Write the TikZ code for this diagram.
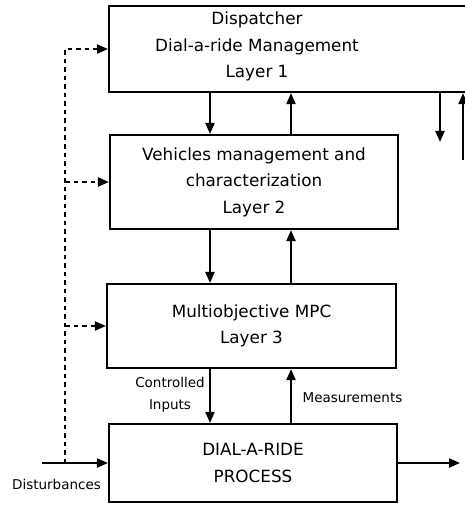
\documentclass[tikz,border=0pt]{standalone}
\usepackage{fontspec}
\setmainfont{DejaVu Sans}
\usetikzlibrary{arrows.meta}
\begin{document}
\begin{tikzpicture}[x=1pt,y=-1pt,
  frame/.style={draw, line width=2.1pt, inner sep=0pt},
  boxtxt/.style={font=\fontsize{16.8}{26.5}\selectfont, align=center, inner sep=0pt},
  lbl/.style={font=\fontsize{13.5}{22}\selectfont, align=center, inner sep=0pt},
  arr/.style={line width=2pt, -{Triangle[length=11pt,width=9pt]}},
  dotarr/.style={line width=2pt, dash pattern=on 4.5pt off 4pt, -{Triangle[length=11pt,width=9pt]}},
  dotline/.style={line width=2pt, dash pattern=on 4.5pt off 4pt}]
\useasboundingbox (0,0) rectangle (464,505);
% boxes
\node[frame, minimum width=380pt, minimum height=86pt, anchor=north west] (b1) at (108,5) {};
\node[boxtxt] (t1) at (257,46.5) {Dispatcher\\Dial-a-ride Management\\Layer 1};
\node[frame, boxtxt, minimum width=288pt, minimum height=94pt] (b2) at (254,182) {Vehicles management and\\characterization\\Layer 2};
\node[frame, boxtxt, minimum width=289pt, minimum height=84pt] (b3) at (251.5,326) {Multiobjective MPC\\Layer 3};
\node[frame, boxtxt, minimum width=288pt, minimum height=78pt] (b4) at (253,463) {DIAL-A-RIDE\\PROCESS};
% coordinates
\coordinate (xa) at (210,0);
\coordinate (xb) at (291,0);
\coordinate (xr1) at (440,0);
\coordinate (xr2) at (463,0);
\coordinate (rdown) at (440,142);
\coordinate (rup) at (463,160);
\coordinate (din) at (42,463);
\coordinate (dj) at (65,463);
\coordinate (out) at (460,463);
% vertical arrows
\draw[arr] (xa |- b1.south) -- (xa |- b2.north);
\draw[arr] (xb |- b2.north) -- (xb |- b1.south);
\draw[arr] (xa |- b2.south) -- (xa |- b3.north);
\draw[arr] (xb |- b3.north) -- (xb |- b2.south);
\draw[arr] (xa |- b3.south) -- (xa |- b4.north);
\draw[arr] (xb |- b4.north) -- (xb |- b3.south);
\draw[arr] (xr1 |- b1.south) -- (rdown);
\draw[arr] (rup) -- (xr2 |- b1.south);
% process in/out
\draw[arr] (din) -- (b4.west);
\draw[arr] (b4.east) -- (out);
% disturbance feed (dotted)
\draw[dotarr] (dj) |- (b1.west);
\draw[dotarr] (dj |- b2.west) -- (b2.west);
\draw[dotarr] (dj |- b3.west) -- (b3.west);
% labels
\node[lbl] (lci) at (170,395) {Controlled\\Inputs};
\node[lbl] (lme) at (352.5,398) {Measurements};
\node[lbl] (ldi) at (56.5,484) {Disturbances};
\end{tikzpicture}
\end{document}
